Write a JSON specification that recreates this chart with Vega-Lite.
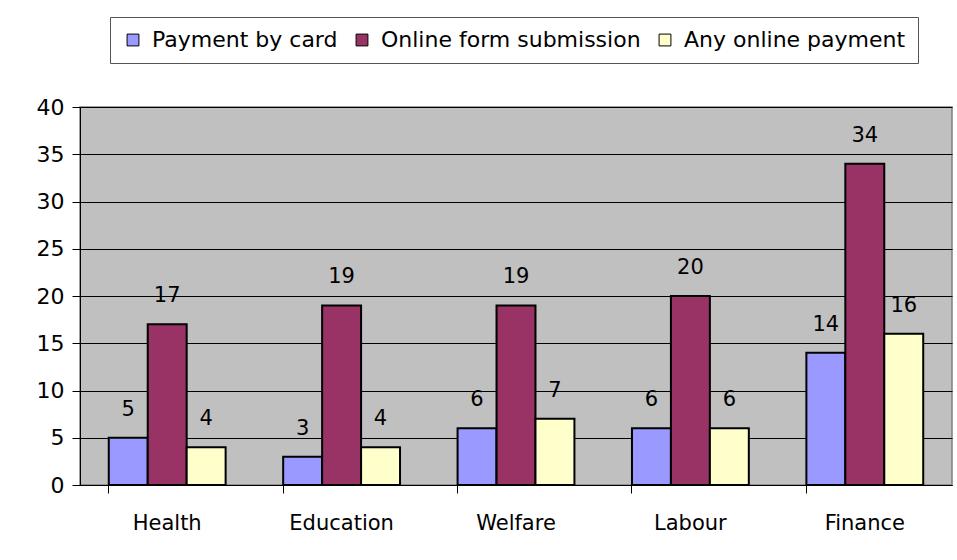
{
  "$schema": "https://vega.github.io/schema/vega-lite/v6.json",
  "width": 872,
  "height": 378,
  "autosize": {"type": "none"},
  "padding": {"left": 80, "top": 107, "right": 5, "bottom": 75},
  "background": "white",
  "data": {
    "values": [
      {"sector": "Health", "series": "Payment by card", "value": 5},
      {"sector": "Health", "series": "Online form submission", "value": 17},
      {"sector": "Health", "series": "Any online payment", "value": 4},
      {"sector": "Education", "series": "Payment by card", "value": 3},
      {"sector": "Education", "series": "Online form submission", "value": 19},
      {"sector": "Education", "series": "Any online payment", "value": 4},
      {"sector": "Welfare", "series": "Payment by card", "value": 6},
      {"sector": "Welfare", "series": "Online form submission", "value": 19},
      {"sector": "Welfare", "series": "Any online payment", "value": 7},
      {"sector": "Labour", "series": "Payment by card", "value": 6},
      {"sector": "Labour", "series": "Online form submission", "value": 20},
      {"sector": "Labour", "series": "Any online payment", "value": 6},
      {"sector": "Finance", "series": "Payment by card", "value": 14},
      {"sector": "Finance", "series": "Online form submission", "value": 34},
      {"sector": "Finance", "series": "Any online payment", "value": 16}
    ]
  },
  "encoding": {
    "x": {
      "field": "sector",
      "type": "nominal",
      "sort": ["Health", "Education", "Welfare", "Labour", "Finance"],
      "scale": {"paddingInner": 0.33, "paddingOuter": 0.165},
      "axis": {
        "title": null,
        "labelAngle": 0,
        "labelFontSize": 21,
        "labelColor": "black",
        "labelPadding": 19,
        "bandPosition": 0,
        "tickColor": "black",
        "tickSize": 8,
        "domainColor": "black",
        "grid": false
      }
    },
    "xOffset": {
      "field": "series",
      "type": "nominal",
      "sort": ["Payment by card", "Online form submission", "Any online payment"]
    },
    "y": {
      "field": "value",
      "type": "quantitative",
      "scale": {"domain": [0, 40], "nice": false},
      "axis": {
        "title": null,
        "values": [0, 5, 10, 15, 20, 25, 30, 35, 40],
        "labelFontSize": 22,
        "labelColor": "black",
        "labelPadding": 8,
        "tickColor": "black",
        "tickSize": 8,
        "domainColor": "black",
        "grid": true,
        "gridColor": "black",
        "gridOpacity": 1,
        "gridWidth": 1
      }
    }
  },
  "layer": [
    {
      "mark": {"type": "bar", "stroke": "black", "strokeWidth": 2},
      "encoding": {
        "color": {
          "field": "series",
          "type": "nominal",
          "sort": ["Payment by card", "Online form submission", "Any online payment"],
          "scale": {
            "domain": ["Payment by card", "Online form submission", "Any online payment"],
            "range": ["#9999FF", "#993366", "#FFFFCC"]
          },
          "legend": {
            "title": null,
            "orient": "none",
            "legendX": 30,
            "legendY": -90,
            "direction": "horizontal",
            "symbolType": "square",
            "symbolSize": 140,
            "symbolStrokeColor": "black",
            "symbolStrokeWidth": 1,
            "symbolOpacity": 1,
            "labelFontSize": 22,
            "labelColor": "black",
            "labelLimit": 400,
            "columnPadding": 13,
            "labelOffset": 8,
            "strokeColor": "#555555",
            "padding": 12,
            "fillColor": "white"
          }
        }
      }
    },
    {
      "mark": {"type": "text", "baseline": "middle", "dy": -28, "fontSize": 21, "color": "black"},
      "encoding": {"text": {"field": "value", "type": "quantitative"}}
    }
  ],
  "config": {
    "font": "DejaVu Sans",
    "view": {"fill": "#C0C0C0", "stroke": "#808080", "strokeWidth": 1.5}
  }
}
